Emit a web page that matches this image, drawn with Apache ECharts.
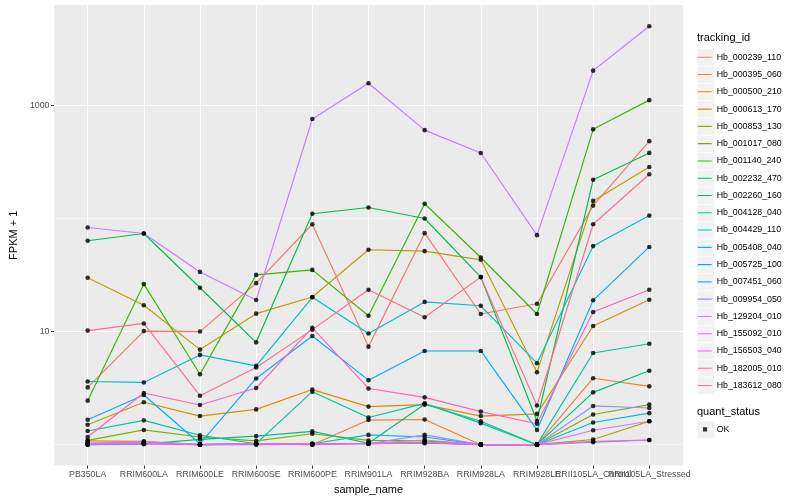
<!DOCTYPE html>
<html><head><meta charset="utf-8">
<script src="https://cdn.jsdelivr.net/npm/echarts@6/dist/echarts.min.js"></script>
<style>html,body{margin:0;padding:0;background:#fff}#c{width:800px;height:500px}</style>
</head><body><div id="c"></div>
<script>
const categories = ['PB350LA','RRIM600LA','RRIM600LE','RRIM600SE','RRIM600PE','RRIM901LA','RRIM928BA','RRIM928LA','RRIM928LE','RRII105LA_Control','RRII105LA_Stressed'];
const trackingIds = ['Hb_000239_110','Hb_000395_060','Hb_000500_210','Hb_000613_170','Hb_000853_130','Hb_001017_080','Hb_001140_240','Hb_002232_470','Hb_002260_160','Hb_004128_040','Hb_004429_110','Hb_005408_040','Hb_005725_100','Hb_007451_060','Hb_009954_050','Hb_129204_010','Hb_155092_010','Hb_156503_040','Hb_182005_010','Hb_183612_080'];
const colors = ['#F8766D','#EA8331','#D89000','#C09B00','#A3A500','#7CAE00','#39B600','#00BB4E','#00BF7D','#00C1A3','#00BFC4','#00BAE0','#00B0F6','#35A2FF','#9590FF','#C77CFF','#E76BF3','#FA62DB','#FF62BC','#FF6C91'];

// FPKM + 1 per sample, in category order
const hb_000239_110 = [3.21, 10.1, 10.0, 26.8, 88.9, 7.36, 74.2, 14.3, 17.6, 130, 483];
const hb_000395_060 = [1.08, 1.07, 1.0, 1.01, 1.0, 1.65, 1.67, 1.0, 1.0, 3.87, 3.28];
const hb_000500_210 = [1.50, 2.37, 1.79, 2.05, 3.07, 2.17, 2.26, 1.79, 1.87, 11.2, 19.1];
const hb_000613_170 = [29.9, 17.1, 6.93, 14.4, 20.2, 52.9, 51.4, 43.1, 4.37, 143, 285];
const hb_000853_130 = [1.03, 1.04, 1.0, 1.02, 1.0, 1.03, 1.05, 1.0, 1.0, 1.11, 1.61];
const hb_001017_080 = [1.09, 1.35, 1.17, 1.08, 1.25, 1.09, 1.08, 1.0, 1.0, 1.85, 2.26];
const hb_001140_240 = [2.45, 26.3, 4.20, 31.7, 35.1, 13.8, 135, 45.2, 14.3, 614, 1113];
const hb_002232_470 = [63.6, 73.6, 24.4, 8.03, 110, 125, 100, 30.3, 1.62, 220, 380];
const hb_002260_160 = [1.0, 1.01, 1.115, 1.19, 1.31, 1.03, 2.28, 1.61, 1.0, 2.90, 4.50];
const hb_004128_040 = [1.32, 1.64, 1.21, 1.02, 2.94, 1.74, 2.32, 1.55, 1.0, 6.47, 7.81];
const hb_004429_110 = [3.62, 3.55, 6.22, 4.98, 20.1, 9.62, 18.3, 16.9, 5.25, 57.0, 106];
const hb_005408_040 = [1.02, 1.03, 1.0, 1.02, 1.02, 1.22, 1.17, 1.0, 1.0, 1.57, 1.90];
const hb_005725_100 = [1.66, 2.75, 1.02, 3.85, 9.14, 3.72, 6.74, 6.74, 1.35, 18.9, 56];
const hb_007451_060 = [1.0, 1.02, 1.0, 1.0, 1.01, 1.02, 1.03, 1.0, 1.0, 1.05, 1.1];
const hb_009954_050 = [1.03, 1.06, 1.0, 1.02, 1.02, 1.02, 1.22, 1.0, 1.0, 2.20, 2.11];
const hb_129204_010 = [83.2, 73.7, 33.7, 19.0, 758, 1570, 604, 379, 71.2, 2029, 5010];
const hb_155092_010 = [1.01, 1.03, 1.0, 1.01, 1.02, 1.03, 1.1, 1.0, 1.0, 1.34, 1.61];
const hb_156503_040 = [1.01, 1.02, 1.0, 1.02, 1.01, 1.02, 1.04, 1.0, 1.0, 1.07, 1.1];
const hb_182005_010 = [1.17, 2.86, 2.245, 3.17, 10.8, 3.14, 2.62, 1.96, 1.53, 14.9, 23.4];
const hb_183612_080 = [10.2, 11.8, 2.71, 4.82, 10.4, 23.4, 13.4, 30.3, 2.22, 88.9, 246];

const seriesValues = [hb_000239_110, hb_000395_060, hb_000500_210, hb_000613_170, hb_000853_130, hb_001017_080, hb_001140_240, hb_002232_470, hb_002260_160, hb_004128_040, hb_004429_110, hb_005408_040, hb_005725_100, hb_007451_060, hb_009954_050, hb_129204_010, hb_155092_010, hb_156503_040, hb_182005_010, hb_183612_080];

const yMajorTicks = [10, 1000];
const yMinorTicks = [1, 10, 100, 1000];
const quantStatus = ['OK'];

const FONT = 'Liberation Sans, Arial, Helvetica, sans-serif';
const xTicks = categories.map((c, i) => i);
// alternate labels drawn on two overlaid axes so that overlapping neighbours are both kept
const xTicksEven = xTicks.filter(i => i % 2 === 0);
const xTicksOdd = xTicks.filter(i => i % 2 === 1);

const lineIcon = 'path://M0,0h0.02v0.02z M3.3,8.1h14v1.1h-14z M17.3,17.28h-0.02v-0.02z';
const pointIcon = 'path://M0,0h0.02v0.02z M8.6,6.64h4.1v4.1h-4.1z M17.3,17.28h-0.02v-0.02z';

const lineSeries = seriesValues.map((vals, k) => ({
  type: 'line', name: trackingIds[k], color: colors[k],
  data: vals.map((v, j) => [j, v]),
  showSymbol: false, symbol: 'none',
  lineStyle: { width: 1.15, color: colors[k] },
  emphasis: { disabled: true }, z: 2
}));

const allPoints = [];
seriesValues.forEach(vals => vals.forEach((v, j) => allPoints.push([j, v])));

const pointSeries = {
  type: 'scatter', name: quantStatus[0], color: '#000',
  data: allPoints, symbol: 'circle', symbolSize: 4.6,
  itemStyle: { color: '#000' }, z: 3, emphasis: { disabled: true }
};

const legendKeys = [];
for (let i = 0; i < trackingIds.length; i++) {
  legendKeys.push({ type: 'rect', left: 697, top: 48.6 + 17.28 * i, z: 0,
    shape: { width: 17.28, height: 17.28 }, style: { fill: '#F2F2F2', stroke: '#fff', lineWidth: 0.6 } });
}
legendKeys.push({ type: 'rect', left: 697, top: 420.7, z: 0,
  shape: { width: 17.28, height: 17.28 }, style: { fill: '#F2F2F2', stroke: '#fff', lineWidth: 0.6 } });

const xLabelCommon = { formatter: v => categories[Math.round(v)], color: '#4D4D4D', fontSize: 8.8, margin: 4.5, fontFamily: FONT, hideOverlap: false, showMinLabel: true, showMaxLabel: true };

const chart = echarts.init(document.getElementById('c'), null, { renderer: 'canvas' });
chart.setOption({
  animation: false,
  backgroundColor: '#fff',
  textStyle: { fontFamily: FONT },
  grid: { left: 45, top: 5, width: 638, height: 463, show: true, backgroundColor: '#EBEBEB', borderWidth: 0 },
  xAxis: [{
    type: 'value', min: -0.6, max: 10.6, position: 'bottom',
    axisLine: { show: true, onZero: false, lineStyle: { color: 'rgba(0,0,0,0)' } },
    axisTick: { show: true, customValues: xTicks, length: 3, lineStyle: { color: '#333', width: 1 } },
    axisLabel: Object.assign({ customValues: xTicksEven }, xLabelCommon),
    splitLine: { show: true, lineStyle: { color: '#fff', width: 1.07 } },
    name: 'sample_name', nameLocation: 'middle', nameGap: 12.5,
    nameTextStyle: { fontSize: 11, color: '#000', fontFamily: FONT }
  }, {
    type: 'value', min: -0.6, max: 10.6, position: 'bottom', offset: 0,
    axisLine: { show: false, onZero: false },
    axisTick: { show: false, customValues: xTicksOdd },
    axisLabel: Object.assign({ customValues: xTicksOdd }, xLabelCommon),
    splitLine: { show: false }
  }],
  yAxis: [{
    type: 'log', logBase: 10, min: 0.653, max: 7720,
    axisLine: { show: true, onZero: false, lineStyle: { color: 'rgba(0,0,0,0)' } },
    axisTick: { show: true, customValues: yMajorTicks, length: 3, lineStyle: { color: '#333', width: 1 } },
    axisLabel: { customValues: yMajorTicks, formatter: v => String(Math.round(v)), color: '#4D4D4D', fontSize: 8.8, margin: 4.5, fontFamily: FONT },
    splitLine: { show: true, lineStyle: { color: '#fff', width: 1.07 } },
    name: 'FPKM + 1', nameLocation: 'middle', nameGap: 28, nameRotate: 90,
    nameTextStyle: { fontSize: 11, color: '#000', fontFamily: FONT }
  }, {
    type: 'log', logBase: 10, min: 0.653, max: 7720, position: 'left',
    axisLine: { show: false },
    axisTick: { show: false, customValues: yMinorTicks },
    axisLabel: { show: false, customValues: yMinorTicks },
    splitLine: { show: true, lineStyle: { color: '#fff', width: 0.55 } }
  }],
  legend: [{
    orient: 'vertical', left: 694.4, top: 48.6, padding: 0, itemWidth: 17.3, itemHeight: 17.28, itemGap: 0,
    icon: lineIcon, selectedMode: false, data: trackingIds,
    textStyle: { fontSize: 8.8, color: '#000', fontFamily: FONT }
  }, {
    orient: 'vertical', left: 694.4, top: 420.7, padding: 0, itemWidth: 17.3, itemHeight: 17.28, itemGap: 0,
    icon: pointIcon, selectedMode: false, data: quantStatus,
    textStyle: { fontSize: 8.8, color: '#000', fontFamily: FONT }
  }],
  graphic: legendKeys.concat([
    { type: 'text', left: 697, top: 32, z: 5, style: { text: 'tracking_id', fontSize: 11, fill: '#000', fontFamily: FONT } },
    { type: 'text', left: 697, top: 406, z: 5, style: { text: 'quant_status', fontSize: 11, fill: '#000', fontFamily: FONT } }
  ]),
  series: lineSeries.concat([pointSeries])
});
</script></body></html>
